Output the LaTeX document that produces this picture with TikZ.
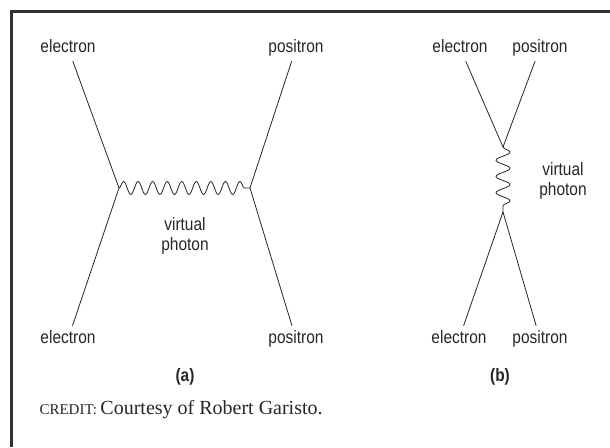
\documentclass[tikz,border=0pt]{standalone}
\usepackage{fontspec}
\setmainfont{Liberation Serif}
\newfontfamily\labelfont{Liberation Sans}[FakeStretch=0.86]
\usepackage{tikz}
\usetikzlibrary{decorations.pathmorphing}

\begin{document}
\begin{tikzpicture}[
  x=1pt, y=-1pt,
  every node/.style={font=\labelfont\fontsize{18}{20}\selectfont, text=black!85},
  particle/.style={inner sep=2pt, text height=13pt, text depth=3.5pt},
  fermion/.style={line width=0.8pt, draw=black!85, shorten <=3pt},
  photon/.style={line width=0.8pt, draw=black!85, decorate,
    decoration={snake, amplitude=6.5pt, segment length=14.55pt}},
  panel/.style={font=\labelfont\bfseries\fontsize{18}{20}\selectfont}
]
\useasboundingbox (0,0) rectangle (610,447);
\draw[line width=3pt, black!80] (11.5,447) -- (11.5,11.5) -- (610,11.5);

\node[particle] (ea1) at (68,48) {electron};
\node[particle] (pa1) at (296,48) {positron};
\node[particle] (ea2) at (68,339) {electron};
\node[particle] (pa2) at (296,339) {positron};
\coordinate (va1) at (119,188);
\coordinate (va2) at (250,188);
\node[align=center] (ga) at (185,236) {virtual\\photon};
\node[panel] (la) at (185,377) {(a)};

\node[particle] (eb1) at (460,48) {electron};
\node[particle] (pb1) at (540,48) {positron};
\node[particle] (eb2) at (459,339) {electron};
\node[particle] (pb2) at (540,339) {positron};
\coordinate (vb1) at (503,147);
\coordinate (vb2) at (503,212);
\node[align=center] (gb) at (563,181) {virtual\\photon};
\node[panel] (lb) at (500,377) {(b)};

\draw[fermion] (ea1) -- (va1);
\draw[fermion] (pa1) -- (va2);
\draw[fermion] (ea2) -- (va1);
\draw[fermion] (pa2) -- (va2);
\draw[photon] (va1) -- (va2);

\draw[fermion] (eb1) -- (vb1);
\draw[fermion] (pb1) -- (vb1);
\draw[fermion] (eb2) -- (vb2);
\draw[fermion] (pb2) -- (vb2);
\draw[photon, decoration={amplitude=7pt, segment length=16.25pt}] (vb1) -- (vb2);

\node[anchor=base west, font=\fontsize{20}{22}\selectfont, text=black!85] (credit) at (36,414)
  {{\fontsize{15}{17}\selectfont CREDIT:}\,Courtesy of Robert Garisto.};
\end{tikzpicture}
\end{document}
